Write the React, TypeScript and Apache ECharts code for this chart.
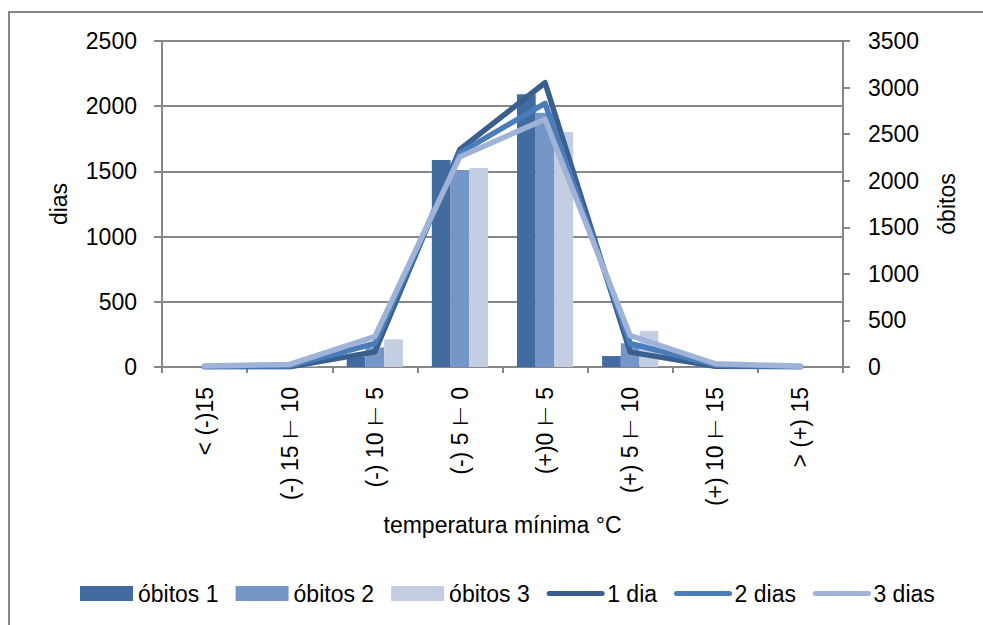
import React, { useEffect, useRef } from "react";
import * as echarts from "echarts";

const categories = [
  "< (-)15",
  "(-) 15 ⊢ 10",
  "(-) 10 ⊢ 5",
  "(-) 5 ⊢ 0",
  "(+)0 ⊢ 5",
  "(+) 5 ⊢ 10",
  "(+) 10 ⊢ 15",
  "> (+) 15",
];

const obitos1 = [0, 2, 80, 1587, 2091, 84, 2, 0];
const obitos2 = [0, 3, 150, 1511, 1950, 182, 3, 0];
const obitos3 = [0, 5, 212, 1526, 1802, 276, 5, 0];

const dia1 = [4, 3, 162, 2337, 3052, 160, 8, 3];
const dias2 = [6, 12, 252, 2300, 2831, 252, 20, 5];
const dias3 = [10, 28, 326, 2258, 2659, 336, 35, 8];

const leftTicks = { min: 0, max: 2500, interval: 500 };
const rightTicks = { min: 0, max: 3500, interval: 500 };

const FONT = "'Liberation Sans', Arial, sans-serif";
const GRAY = "#878787";

export default function App() {
  const ref = useRef<HTMLDivElement>(null);

  useEffect(() => {
    if (!ref.current) return;
    const chart = echarts.init(ref.current, undefined, { renderer: "svg" });
    const barColors = ["#426ca0", "#7597c8", "#c3cee3"];
    const lineColors = ["#3a5f8f", "#4a7cba", "#9fb3d8"];
    const barData = [obitos1, obitos2, obitos3];
    const barNames = ["óbitos 1", "óbitos 2", "óbitos 3"];
    const lineData = [dia1, dias2, dias3];
    const lineNames = ["1 dia", "2 dias", "3 dias"];

    const series: any[] = [];
    barData.forEach((d, i) => {
      series.push({
        name: barNames[i],
        type: "bar",
        yAxisIndex: 0,
        data: d,
        barGap: "0%",
        barCategoryGap: "34%",
        itemStyle: { color: barColors[i] },
      });
    });
    lineData.forEach((d, i) => {
      series.push({
        name: lineNames[i],
        type: "line",
        yAxisIndex: 1,
        data: d,
        symbol: "none",
        lineStyle: { color: lineColors[i], width: 5.5, join: "round", cap: "round" },
        itemStyle: { color: lineColors[i] },
      });
    });

    const fmt = (v: number) => String(v);

    chart.setOption({
      animation: false,
      textStyle: { fontFamily: FONT },
      graphic: [
        {
          type: "rect",
          shape: { x: 9, y: 12, width: 1100, height: 800 },
          style: { fill: "none", stroke: GRAY, lineWidth: 2 },
          silent: true,
        },
      ],
      grid: { left: 162, right: 140, top: 41, bottom: 258 },
      legend: {
        left: 75,
        top: 577,
        itemWidth: 53,
        itemHeight: 15,
        itemGap: 17,
        textStyle: { fontFamily: FONT, fontSize: 23, color: "#000" },
        data: [
          { name: "óbitos 1", icon: "rect" },
          { name: "óbitos 2", icon: "rect" },
          { name: "óbitos 3", icon: "rect" },
          { name: "1 dia", itemStyle: { opacity: 0 }, lineStyle: { width: 5, cap: "round" } },
          { name: "2 dias", itemStyle: { opacity: 0 }, lineStyle: { width: 5, cap: "round" } },
          { name: "3 dias", itemStyle: { opacity: 0 }, lineStyle: { width: 5, cap: "round" } },
        ],
      },
      xAxis: {
        type: "category",
        data: categories,
        name: "temperatura mínima °C",
        nameLocation: "middle",
        nameGap: 141,
        nameTextStyle: { fontFamily: FONT, fontSize: 23, color: "#000" },
        axisLine: { lineStyle: { color: GRAY, width: 2 } },
        axisTick: { show: true, length: 6, lineStyle: { color: GRAY, width: 2 } },
        axisLabel: {
          rotate: 90,
          interval: 0,
          margin: 20,
          fontFamily: FONT,
          fontSize: 23,
          color: "#000",
        },
      },
      yAxis: [
        {
          type: "value",
          position: "left",
          min: leftTicks.min,
          max: leftTicks.max,
          interval: leftTicks.interval,
          name: "dias",
          nameLocation: "middle",
          nameRotate: 90,
          nameGap: 92,
          nameTextStyle: { fontFamily: FONT, fontSize: 23, color: "#000" },
          axisLine: { show: true, lineStyle: { color: GRAY, width: 2 } },
          axisTick: { show: true, length: 8, lineStyle: { color: GRAY, width: 2 } },
          axisLabel: { margin: 25, fontFamily: FONT, fontSize: 23, color: "#000", formatter: fmt },
          splitLine: { show: true, lineStyle: { color: GRAY, width: 2 } },
        },
        {
          type: "value",
          position: "right",
          min: rightTicks.min,
          max: rightTicks.max,
          interval: rightTicks.interval,
          name: "óbitos",
          nameLocation: "middle",
          nameRotate: 90,
          nameGap: 92,
          nameTextStyle: { fontFamily: FONT, fontSize: 23, color: "#000" },
          axisLine: { show: true, lineStyle: { color: GRAY, width: 2 } },
          axisTick: { show: true, length: 7, lineStyle: { color: GRAY, width: 2 } },
          axisLabel: { margin: 25, fontFamily: FONT, fontSize: 23, color: "#000", formatter: fmt },
          splitLine: { show: false },
        },
      ],
      series,
    });
    return () => chart.dispose();
  }, []);

  return (
    <div
      ref={ref}
      style={{ position: "fixed", left: 0, top: 0, width: 983, height: 625, background: "#fff" }}
    />
  );
}
